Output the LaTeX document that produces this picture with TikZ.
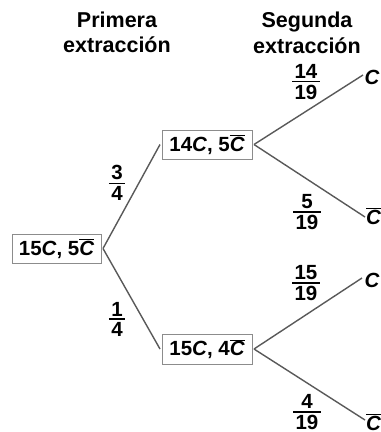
\documentclass[tikz,border=0pt]{standalone}
\usepackage{fontspec}
\setmainfont{Liberation Sans}
\newcommand\fr[2]{\vbox{\offinterlineskip\halign{\hfil\kern2.5pt##\kern2.5pt\hfil\cr#1\cr\noalign{\kern2.3pt\hrule height1.4pt\kern2.3pt}#2\cr}}}
\newcommand\Cb{$\overline{\hbox{\itshape C}}$}
\newcommand\Ci{{\itshape C}}
\begin{document}
\begin{tikzpicture}[x=1pt,y=-1pt,
  every node/.style={font=\fontsize{20.5}{24}\selectfont\bfseries, inner sep=0pt},
  stbox/.style={draw=black!45, line width=0.9pt, minimum width=90pt, minimum height=29pt, outer sep=2pt},
  branch/.style={draw=black!65, line width=1.4pt},
  head/.style={font=\fontsize{21.5}{25}\selectfont\bfseries, align=center, anchor=north},
  leaf/.style={anchor=base west}]
\useasboundingbox (0,0) rectangle (381,432);
\node[head] (h1) at (117,11.5) {Primera\\extracción};
\node[head, font=\fontsize{21.5}{26.5}\selectfont\bfseries] (h2) at (307,11.5) {Segunda\\extracción};
\node[stbox, minimum width=89pt] (r) at (56.5,248.5) {15\Ci, 5\Cb};
\node[stbox] (a) at (207,144.5) {14\Ci, 5\Cb};
\node[stbox, minimum height=30pt] (b) at (207,349) {15\Ci, 4\Cb};
\coordinate (e1) at (363,75);
\coordinate (e2) at (365,217);
\coordinate (e3) at (362,278);
\coordinate (e4) at (365,420);
\node[leaf] (l1) at (364.5,84) {\Ci};
\node[leaf] (l2) at (366,224) {\Cb};
\node[leaf] (l3) at (364.5,287) {\Ci};
\node[leaf] (l4) at (366,430) {\Cb};
\draw[branch] (r.east) -- (a.west);
\draw[branch] (r.east) -- (b.west);
\draw[branch] (a.east) -- (e1);
\draw[branch] (a.east) -- (e2);
\draw[branch] (b.east) -- (e3);
\draw[branch] (b.east) -- (e4);
\node (f1) at (117,183) {\fr{3}{4}};
\node (f2) at (117,319) {\fr{1}{4}};
\node (f3) at (306,82) {\fr{14}{19}};
\node (f4) at (307,212) {\fr{5}{19}};
\node (f5) at (306,283) {\fr{15}{19}};
\node (f6) at (307,412) {\fr{4}{19}};
\end{tikzpicture}
\end{document}
